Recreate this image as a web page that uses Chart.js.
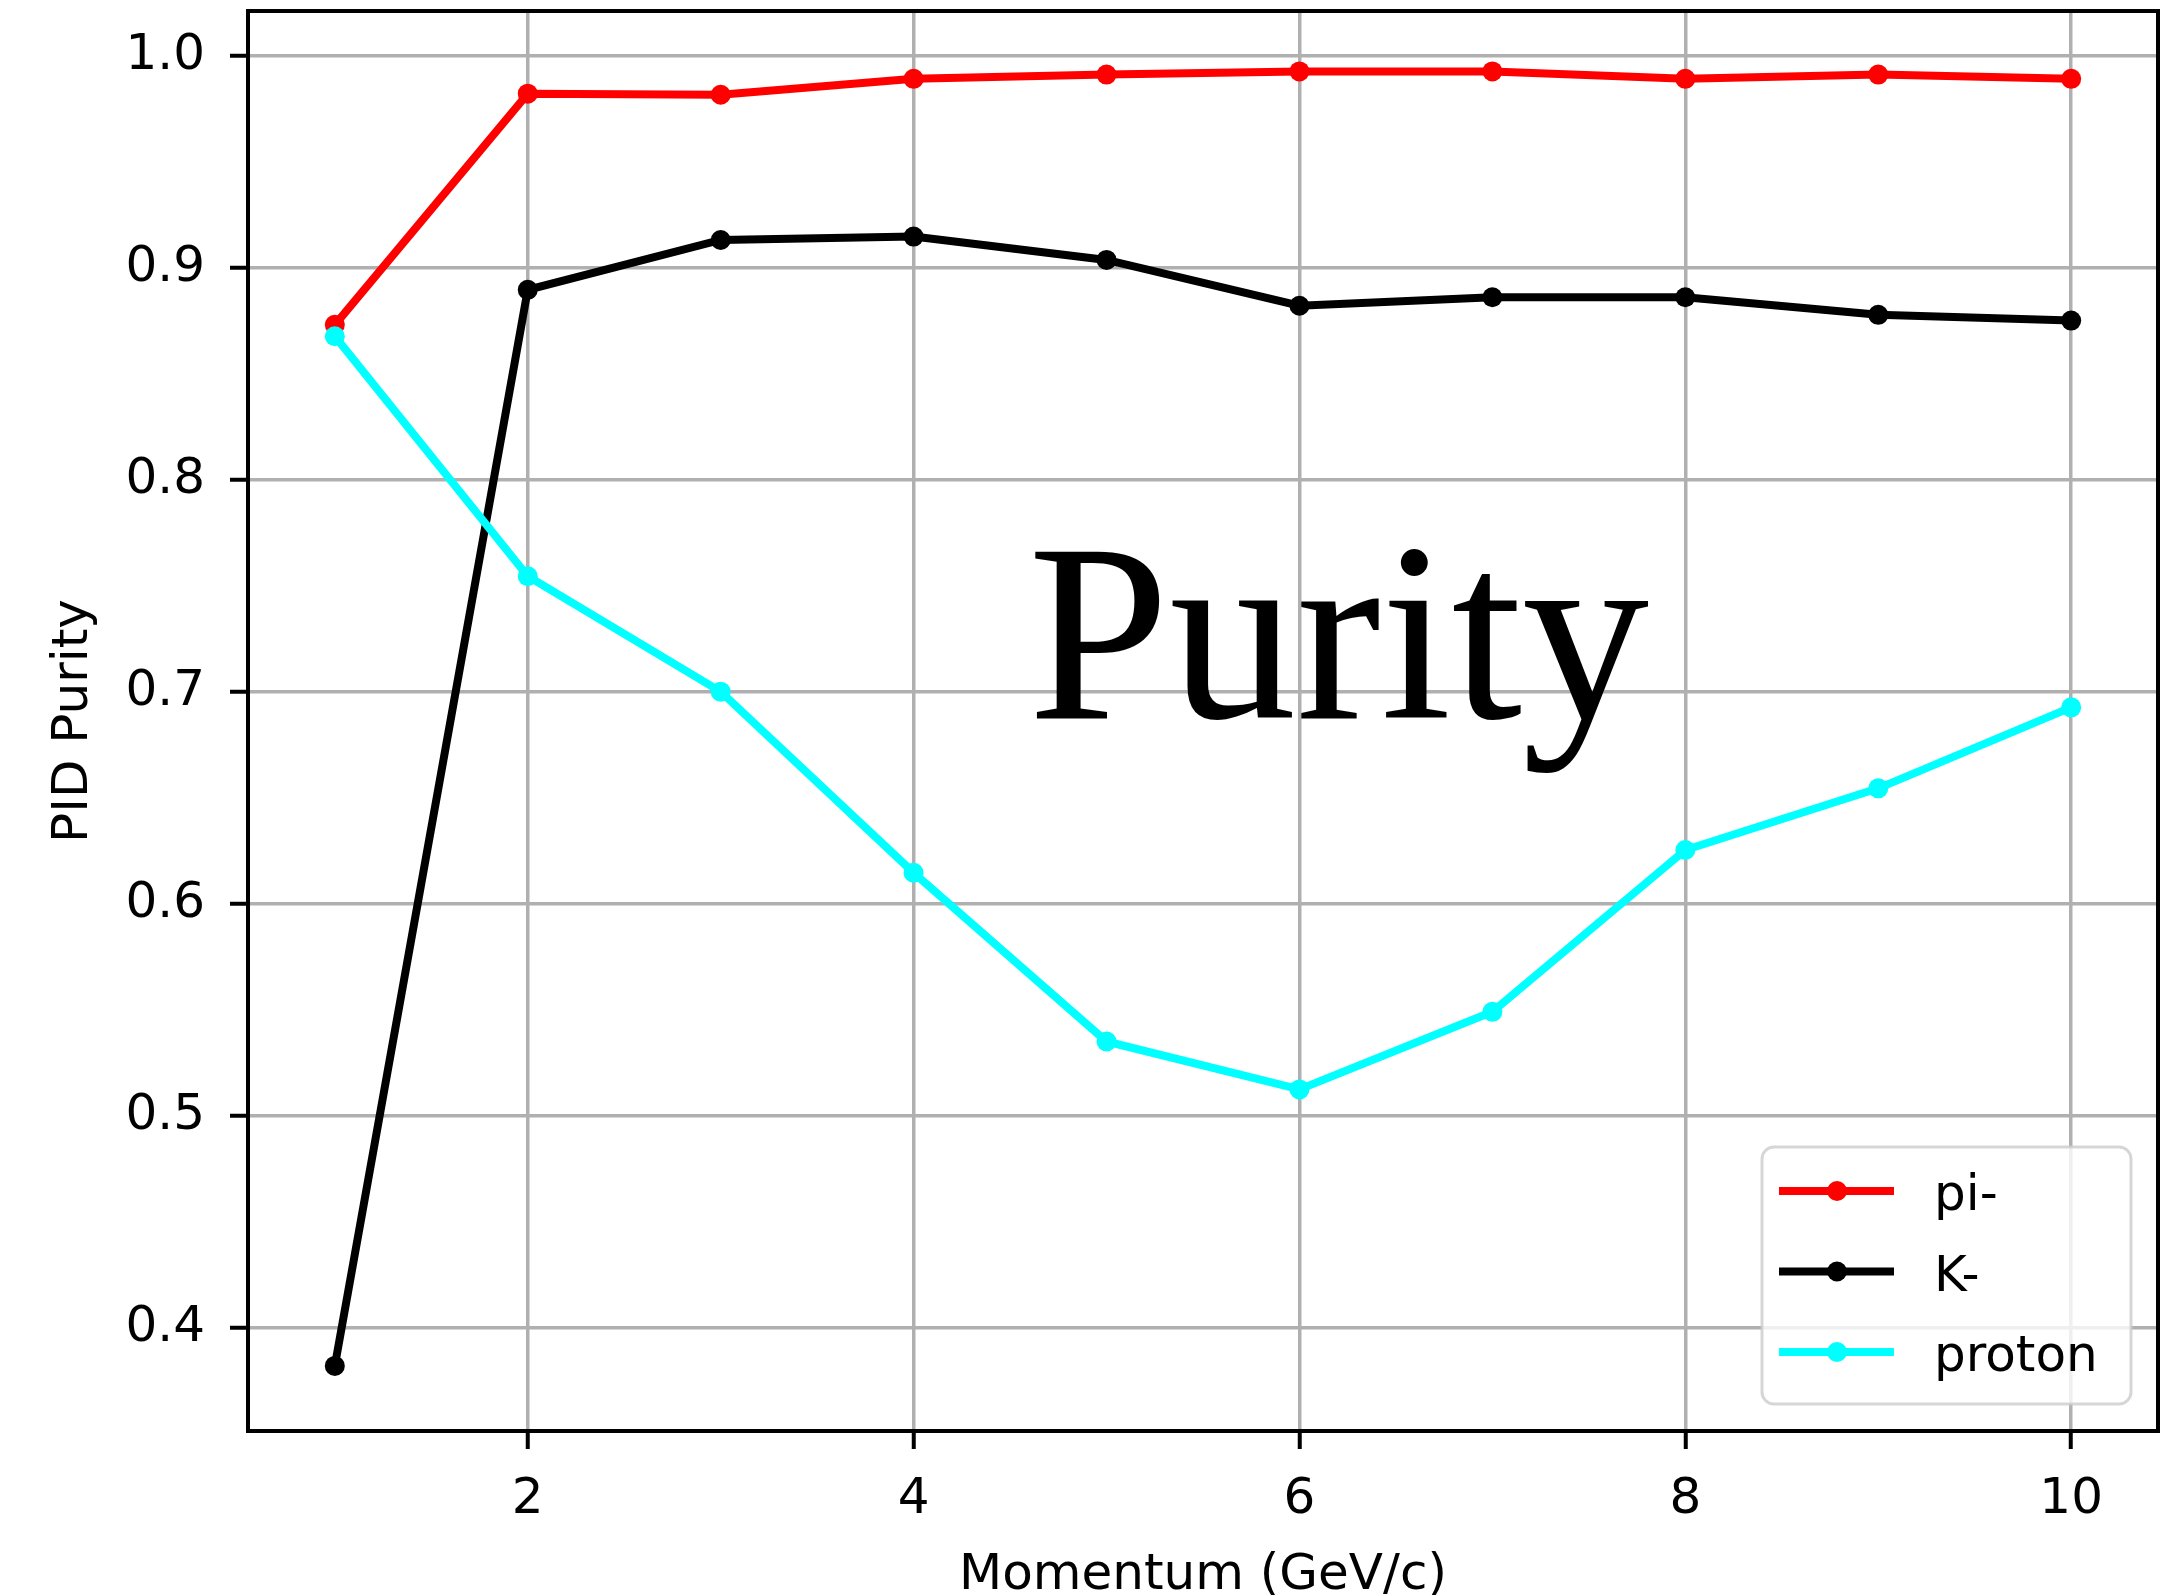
<!DOCTYPE html>
<html>
  <head>
    <script src="https://cdn.jsdelivr.net/npm/chart.js@4"></script>
    <style>
      html, body { margin: 0; padding: 0; background: #fff; }
      canvas { display: block; }
    </style>
  </head>

  <body>
    <canvas id="canvas" width="2162" height="1595"></canvas>
    <script>
      // PID purity per momentum bin
      const momentum = [1, 2, 3, 4, 5, 6, 7, 8, 9, 10];
      const piMinus = [0.873, 0.982, 0.9815, 0.989, 0.991, 0.9925, 0.9925, 0.989, 0.991, 0.989];
      const kMinus = [0.382, 0.8895, 0.913, 0.9146, 0.9036, 0.882, 0.886, 0.886, 0.8777, 0.875];
      const proton = [0.8676, 0.7544, 0.700, 0.6146, 0.535, 0.5124, 0.549, 0.6253, 0.6544, 0.6926];

      const xTicks = [2, 4, 6, 8, 10];
      const yTicks = [0.4, 0.5, 0.6, 0.7, 0.8, 0.9, 1.0];

      const FONT = 'DejaVu Sans';
      Chart.defaults.font.family = FONT;
      Chart.defaults.color = '#000';

      const points = (ys) => momentum.map((x, i) => ({ x: x, y: ys[i] }));

      const series = (label, color, ys, order) => ({
        label: label,
        data: points(ys),
        borderColor: color,
        backgroundColor: color,
        borderWidth: 8,
        pointRadius: 10,
        pointBorderWidth: 0,
        pointBackgroundColor: color,
        tension: 0,
        order: order,
      });

      // no extra room for edge labels, the plot box is fixed
      const noEdgePadding = (s) => {
        s.paddingTop = 0;
        s.paddingBottom = 0;
        s.paddingLeft = 0;
        s.paddingRight = 0;
      };

      // black box round the plot area, drawn over the lines like matplotlib spines
      const frame = {
        id: 'frame',
        afterDatasetsDraw(chart) {
          const { ctx, chartArea: a } = chart;
          ctx.save();
          ctx.strokeStyle = '#000';
          ctx.lineWidth = 4;
          ctx.strokeRect(a.left, a.top, a.right - a.left, a.bottom - a.top);

          // big serif label in the middle of the plot
          ctx.fillStyle = '#000';
          ctx.font = '254px "Liberation Serif"';
          ctx.textAlign = 'left';
          ctx.textBaseline = 'alphabetic';
          ctx.fillText('Purity', 1028, 718);
          ctx.restore();
        },
      };

      // legend box in the lower right corner of the axes
      const insetLegend = {
        id: 'insetLegend',
        afterDraw(chart) {
          const { ctx, chartArea: a } = chart;
          const w = 369, h = 257;
          const x = a.right - 27 - w;
          const y = a.bottom - 27 - h;
          ctx.save();
          ctx.beginPath();
          ctx.roundRect(x, y, w, h, 12);
          ctx.fillStyle = 'rgba(255,255,255,0.8)';
          ctx.fill();
          ctx.strokeStyle = 'rgba(204,204,204,0.8)';
          ctx.lineWidth = 3;
          ctx.stroke();

          const sets = chart.data.datasets;
          sets.forEach((ds, i) => {
            const cy = y + 44 + i * 80.5;
            ctx.strokeStyle = ds.borderColor;
            ctx.lineWidth = 8;
            ctx.beginPath();
            ctx.moveTo(x + 17, cy);
            ctx.lineTo(x + 132, cy);
            ctx.stroke();
            ctx.fillStyle = ds.borderColor;
            ctx.beginPath();
            ctx.arc(x + 75, cy, 10, 0, Math.PI * 2);
            ctx.fill();
            ctx.fillStyle = '#000';
            ctx.font = '50px "' + FONT + '"';
            ctx.textAlign = 'left';
            ctx.textBaseline = 'alphabetic';
            ctx.fillText(ds.label, x + 172, cy + 19);
          });
          ctx.restore();
        },
      };

      new Chart(document.getElementById('canvas').getContext('2d'), {
        type: 'line',
        data: {
          datasets: [
            series('pi-', '#ff0000', piMinus, 2),
            series('K-', '#000000', kMinus, 1),
            series('proton', '#00ffff', proton, 0),
          ],
        },
        options: {
          responsive: false,
          devicePixelRatio: 1,
          animation: false,
          layout: {
            autoPadding: false,
            padding: { top: 11, right: 4, left: 0, bottom: 0 },
          },
          plugins: {
            legend: { display: false },
            tooltip: { enabled: false },
          },
          scales: {
            x: {
              type: 'linear',
              min: 0.55,
              max: 10.45,
              afterBuildTicks: (s) => { s.ticks = xTicks.map((v) => ({ value: v })); },
              afterFit: (s) => { s.height = 164; noEdgePadding(s); },
              border: { display: false },
              grid: {
                color: '#b0b0b0',
                lineWidth: 3.5,
                tickLength: 18,
                tickColor: '#000',
                tickWidth: 4,
              },
              ticks: {
                font: { size: 50, lineHeight: 1 },
                color: '#000',
                padding: 26,
                maxRotation: 0,
                callback: (v) => String(v),
              },
              title: {
                display: true,
                text: 'Momentum (GeV/c)',
                font: { size: 50, lineHeight: 0.75 },
                color: '#000',
                padding: { top: 0, bottom: 0 },
              },
            },
            y: {
              min: 0.3513,
              max: 1.021,
              afterBuildTicks: (s) => { s.ticks = yTicks.map((v) => ({ value: v })); },
              afterFit: (s) => { s.width = 248; noEdgePadding(s); },
              border: { display: false },
              grid: {
                color: '#b0b0b0',
                lineWidth: 3.5,
                tickLength: 18,
                tickColor: '#000',
                tickWidth: 4,
              },
              ticks: {
                font: { size: 50, lineHeight: 1 },
                color: '#000',
                padding: 25,
                callback: (v) => v.toFixed(1),
              },
              title: {
                display: true,
                text: 'PID Purity',
                font: { size: 50, lineHeight: 1 },
                color: '#000',
                padding: { top: 49, bottom: 0 },
              },
            },
          },
        },
        plugins: [frame, insetLegend],
      });
    </script>
  </body>
</html>
